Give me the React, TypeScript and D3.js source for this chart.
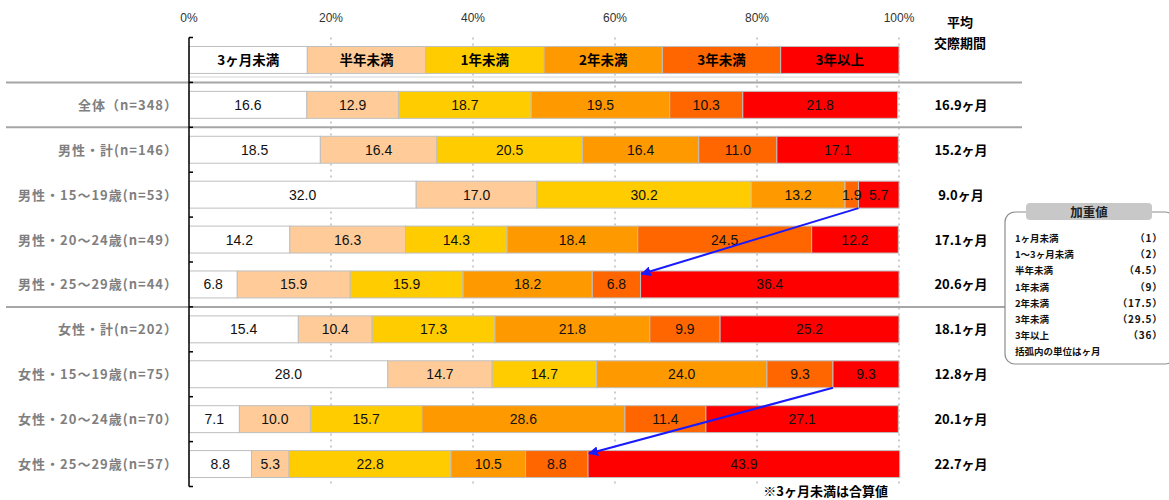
import React from 'react';
import * as d3 from 'd3';

const categories = ['3ヶ月未満', '半年未満', '1年未満', '2年未満', '3年未満', '3年以上'];
const colors = ['#FFFFFF', '#FFCC99', '#FFCC00', '#FF9900', '#FF6600', '#FF0000'];
const rowLabels = [
  '全体（n=348）',
  '男性・計(n=146）',
  '男性・15～19歳(n=53）',
  '男性・20～24歳(n=49）',
  '男性・25～29歳(n=44）',
  '女性・計(n=202）',
  '女性・15～19歳(n=75）',
  '女性・20～24歳(n=70）',
  '女性・25～29歳(n=57）',
];
const total = [16.6, 12.9, 18.7, 19.5, 10.3, 21.8];
const male = [18.5, 16.4, 20.5, 16.4, 11.0, 17.1];
const male1519 = [32.0, 17.0, 30.2, 13.2, 1.9, 5.7];
const male2024 = [14.2, 16.3, 14.3, 18.4, 24.5, 12.2];
const male2529 = [6.8, 15.9, 15.9, 18.2, 6.8, 36.4];
const female = [15.4, 10.4, 17.3, 21.8, 9.9, 25.2];
const female1519 = [28.0, 14.7, 14.7, 24.0, 9.3, 9.3];
const female2024 = [7.1, 10.0, 15.7, 28.6, 11.4, 27.1];
const female2529 = [8.8, 5.3, 22.8, 10.5, 8.8, 43.9];
const rowValues = [total, male, male1519, male2024, male2529, female, female1519, female2024, female2529];
const averages = ['16.9ヶ月', '15.2ヶ月', '9.0ヶ月', '17.1ヶ月', '20.6ヶ月', '18.1ヶ月', '12.8ヶ月', '20.1ヶ月', '22.7ヶ月'];
const tickValues = [0, 20, 40, 60, 80, 100];
const weightLabels = ['1ヶ月未満', '1～3ヶ月未満', '半年未満', '1年未満', '2年未満', '3年未満', '3年以上'];
const weightValues = ['（1）', '（2）', '（4.5）', '（9）', '（17.5）', '（29.5）', '（36）'];
const arrowPairs: [number, number][] = [[2, 4], [6, 8]];

const FONT = '"Liberation Sans", "Noto Sans CJK JP", sans-serif';
const JFONT = '"Noto Sans CJK JP", sans-serif';

export default function App() {
  const W = 1169, H = 500;
  const x = d3.scaleLinear().domain([0, 100]).range([189, 899]);
  const bandKeys = ['header', ...rowLabels];
  const y = d3.scaleBand<string>().domain(bandKeys).range([37.5, 486.5]).paddingInner(0.4).paddingOuter(0.2);
  const bw = y.bandwidth();
  const step = y.step();
  const boundary = (i: number) => 37.5 + step * i;
  const rowY = (i: number) => y(rowLabels[i]) as number;

  const headerY = y('header') as number;

  const segs = (vals: number[]) => {
    const cum = [0, ...Array.from(d3.cumsum(vals))];
    return vals.map((v, i) => ({ v, i, x0: cum[i], x1: cum[i + 1] }));
  };

  const sepRows = [1, 2, 6];

  return (
    <svg width={W} height={H} style={{ position: 'absolute', left: 0, top: 0, background: '#fff' }}>
      <defs>
        <marker id="ah" viewBox="0 0 10 10" refX="9" refY="5" markerWidth="5" markerHeight="5" orient="auto">
          <path d="M0,0 L10,5 L0,10 z" fill="#1a1aff" />
        </marker>
      </defs>
      {/* gridlines */}
      {tickValues.slice(1).map((t) => (
        <line key={'g' + t} x1={x(t)} x2={x(t)} y1={boundary(0)} y2={boundary(10)} stroke="#999" strokeWidth={1} strokeDasharray="2,4" />
      ))}
      {/* tick labels */}
      {tickValues.map((t) => (
        <text key={'t' + t} x={x(t)} y={22} textAnchor="middle" fontFamily={FONT} fontSize={12} fill="#333">{t}%</text>
      ))}
      {/* separators */}
      {sepRows.map((r, k) => (
        <line key={'s' + r} x1={6} x2={k < 2 ? 1022 : 1005} y1={boundary(r)} y2={boundary(r)} stroke="#a6a6a6" strokeWidth={2} />
      ))}
      <line x1={x(0)} x2={x(100)} y1={77} y2={77} stroke="#d4d4d4" strokeWidth={1} />
      {/* header legend boxes */}
      {categories.map((c, i) => {
        const a = x((i * 100) / 6), b = x(((i + 1) * 100) / 6);
        return (
          <g key={'h' + i}>
            <rect x={a} y={headerY} width={b - a} height={bw} fill={colors[i]} stroke="#bfbfbf" strokeWidth={1} />
            <text x={(a + b) / 2} y={headerY + bw / 2 + 5} textAnchor="middle" fontFamily={JFONT} fontWeight="bold" fontSize={13.5} fill="#000">{c}</text>
          </g>
        );
      })}
      {/* bars */}
      {rowValues.map((vals, r) => (
        <g key={'r' + r}>
          {segs(vals).map((s) => (
            <rect key={s.i} x={x(s.x0)} y={rowY(r)} width={x(s.x1) - x(s.x0)} height={bw} fill={colors[s.i]} stroke="#bfbfbf" strokeWidth={1} />
          ))}
          {segs(vals).map((s) => (
            <text key={'l' + s.i} x={(x(s.x0) + x(s.x1)) / 2} y={rowY(r) + bw / 2 + 5} textAnchor="middle" fontFamily={FONT} fontSize={14} fill="#111">{s.v.toFixed(1)}</text>
          ))}
          <text x={178} y={rowY(r) + bw / 2 + 5} textAnchor="end" fontFamily={JFONT} fontWeight="bold" fontSize={13} letterSpacing={1} fill="#7f7f7f">{rowLabels[r]}</text>
          <text x={961} y={rowY(r) + bw / 2 + 5} textAnchor="middle" fontFamily={JFONT} fontWeight="bold" fontSize={13} fill="#000">{averages[r]}</text>
        </g>
      ))}
      {/* axis */}
      <line x1={x(0)} x2={x(0)} y1={boundary(0)} y2={boundary(10)} stroke="#000" strokeWidth={1.5} />
      {d3.range(11).map((k) => (
        <line key={'at' + k} x1={x(0)} x2={x(0) + 4} y1={boundary(k)} y2={boundary(k)} stroke="#000" strokeWidth={1.5} />
      ))}
      {/* average header */}
      <text x={960} y={27} textAnchor="middle" fontFamily={JFONT} fontWeight="bold" fontSize={13} fill="#000">平均</text>
      <text x={960} y={48} textAnchor="middle" fontFamily={JFONT} fontWeight="bold" fontSize={13} fill="#000">交際期間</text>
      {/* arrows */}
      {arrowPairs.map(([a, b], k) => {
        const xa = x(d3.sum(rowValues[a].slice(0, 5)));
        const xb = x(d3.sum(rowValues[b].slice(0, 5)));
        return (
          <line key={'ar' + k} x1={xa} y1={rowY(a) + bw} x2={xb + 1} y2={rowY(b) + 3} stroke="#1a1aff" strokeWidth={2} markerEnd="url(#ah)" />
        );
      })}
      {/* weight box */}
      <rect x={1005} y={212} width={170} height={152} rx={10} ry={10} fill="#fff" stroke="#8c8c8c" strokeWidth={1.2} />
      <rect x={1026} y={203} width={126} height={17} rx={4} ry={4} fill="#c8c8c8" />
      <text x={1089} y={216.5} textAnchor="middle" fontFamily={JFONT} fontWeight="bold" fontSize={12.5} fill="#222">加重値</text>
      {weightLabels.map((w, i) => (
        <g key={'w' + i}>
          <text x={1015} y={242 + i * 16.2} fontFamily={JFONT} fontSize={9.5} fontWeight="bold" fill="#111">{w}</text>
          <text x={1163} y={242 + i * 16.2} textAnchor="end" fontFamily={JFONT} fontSize={10} fontWeight="bold" letterSpacing={0.8} fill="#111">{weightValues[i]}</text>
        </g>
      ))}
      <text x={1015} y={242 + 7 * 16.2} fontFamily={JFONT} fontSize={9.5} fontWeight="bold" fill="#111">括弧内の単位はヶ月</text>
      {/* footnote */}
      <text x={888} y={496} textAnchor="end" fontFamily={JFONT} fontWeight="bold" fontSize={13} fill="#000">※3ヶ月未満は合算値</text>
    </svg>
  );
}
